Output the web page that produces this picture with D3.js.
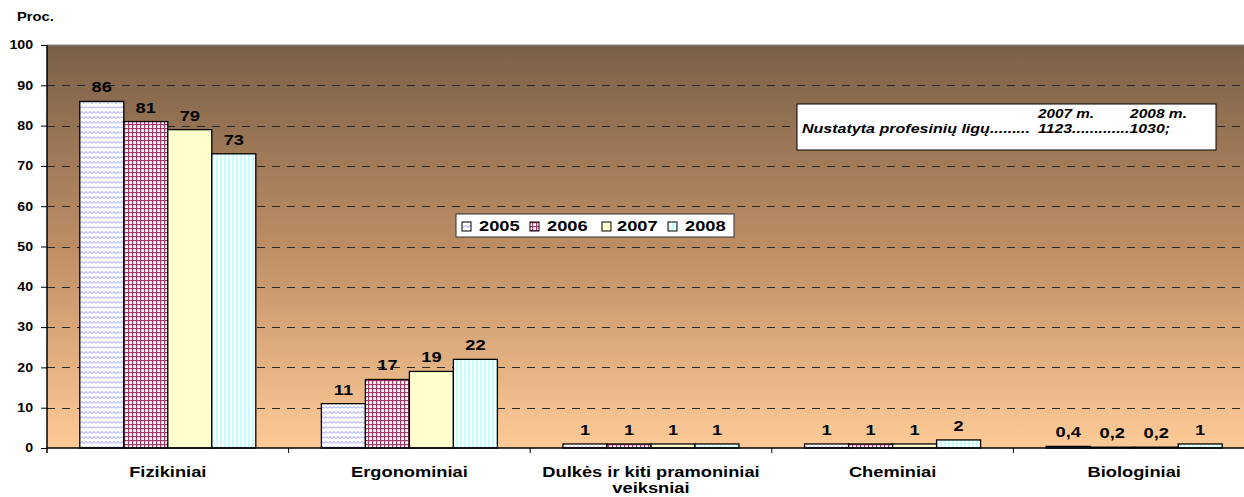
<!DOCTYPE html>
<html><head><meta charset="utf-8">
<script src="https://cdn.jsdelivr.net/npm/d3@7"></script>
<style>body{margin:0;background:#fff;}svg{display:block;font-family:"Liberation Sans",Arial,sans-serif;}</style>
</head><body>
<svg id="c" width="1244" height="497"></svg>
<script>
const categories = ["Fizikiniai","Ergonominiai","Dulkės ir kiti pramoniniai\nveiksniai","Cheminiai","Biologiniai"];
const years = ["2005","2006","2007","2008"];
const v2005 = [86, 11, 1, 1, 0.4];
const v2006 = [81, 17, 1, 1, 0.2];
const v2007 = [79, 19, 1, 1, 0.2];
const v2008 = [73, 22, 1, 2, 1];
const series = [v2005, v2006, v2007, v2008];
const yTicks = [0,10,20,30,40,50,60,70,80,90,100];

const S = 1.18; // horizontal text stretch
function stretch(sel, sx){
  sel.each(function(){
    const t = d3.select(this);
    let x = t.attr("x");
    if (x === null) { const ts = t.select("tspan"); x = ts.empty() ? 0 : ts.attr("x"); }
    x = +x || 0;
    t.attr("transform", `translate(${x*(1-sx)},0) scale(${sx},1)`);
  });
}

const svg = d3.select("#c");
const L = 47, R = 1255, T = 45, B = 448;
const x = d3.scaleBand().domain(categories).range([L, R]);
const xs = d3.scaleBand().domain(years).range([0, 176]);
const y = d3.scaleLinear().domain([0,100]).range([B, T]);

const defs = svg.append("defs");
const grad = defs.append("linearGradient").attr("id","bg").attr("x1",0).attr("y1",0).attr("x2",0).attr("y2",1);
grad.append("stop").attr("offset","0%").attr("stop-color","#7a6048");
grad.append("stop").attr("offset","50%").attr("stop-color","#bd8e65");
grad.append("stop").attr("offset","100%").attr("stop-color","#fecb97");

// patterns
const p1 = defs.append("pattern").attr("id","p2005").attr("patternUnits","userSpaceOnUse").attr("width",8).attr("height",5);
p1.append("rect").attr("width",8).attr("height",5).attr("fill","#fff");
p1.append("path").attr("d","M0,3.5 L2,1.5 L4,3.5 L6,1.5 L8,3.5").attr("fill","none").attr("stroke","#9494f4").attr("stroke-width",1);
const p2 = defs.append("pattern").attr("id","p2006").attr("patternUnits","userSpaceOnUse").attr("width",4).attr("height",4);
p2.append("rect").attr("width",4).attr("height",4).attr("fill","#fff");
p2.append("rect").attr("x",0).attr("y",0).attr("width",1.2).attr("height",4).attr("fill","#a03a6a");
p2.append("rect").attr("x",0).attr("y",0).attr("width",4).attr("height",1.2).attr("fill","#a03a6a");
const p4 = defs.append("pattern").attr("id","p2008").attr("patternUnits","userSpaceOnUse").attr("width",4).attr("height",4);
p4.append("rect").attr("width",4).attr("height",4).attr("fill","#fff");
p4.append("rect").attr("x",0).attr("width",2).attr("height",4).attr("fill","#c2ffff");
const fills = ["url(#p2005)","url(#p2006)","#ffffcc","url(#p2008)"];

svg.append("rect").attr("x",L).attr("y",T).attr("width",R-L).attr("height",B-T).attr("fill","url(#bg)");
svg.append("line").attr("x1",L).attr("x2",R).attr("y1",T).attr("y2",T).attr("stroke","#888").attr("stroke-width",1);

// gridlines
svg.append("g").selectAll("line").data(yTicks.filter(d=>d>0&&d<100)).join("line")
  .attr("x1",L).attr("x2",R).attr("y1",d=>Math.round(y(d))+0.5).attr("y2",d=>Math.round(y(d))+0.5)
  .attr("stroke","#2a2a2a").attr("stroke-width",1).attr("stroke-dasharray","8,7");

// bars
categories.forEach((c,i)=>{
  const gx = x(c) + (x.bandwidth()-176)/2;
  years.forEach((yr,j)=>{
    const v = series[j][i];
    svg.append("rect").attr("x",gx+xs(yr)).attr("y",y(v)).attr("width",xs.bandwidth()).attr("height",B-y(v))
      .attr("fill",fills[j]).attr("stroke","#000").attr("stroke-width",1.3);
    svg.append("text").attr("class","val").attr("x",gx+xs(yr)+xs.bandwidth()/2).attr("y",y(v)-9)
      .attr("text-anchor","middle").attr("font-weight","bold").attr("font-size",15.5).attr("fill","#000")
      .text(String(v).replace(".",","));
  });
});
stretch(svg.selectAll("text.val"), S);

// y axis
const yAxis = d3.axisLeft(y).tickValues(yTicks).tickSize(6).tickPadding(8);
const ya = svg.append("g").attr("transform",`translate(${L},0)`).call(yAxis);
ya.select(".domain").attr("stroke","#000").attr("stroke-width",1.5).attr("d",`M0,${B+5}V${T}`);
ya.selectAll(".tick line").attr("stroke","#000");
ya.selectAll("text").attr("font-size",12).attr("font-weight","bold").attr("font-family","'Liberation Sans',Arial,sans-serif").attr("fill","#000");
stretch(ya.selectAll("text"), S);

// x axis
svg.append("line").attr("x1",L).attr("x2",R).attr("y1",B).attr("y2",B).attr("stroke","#000").attr("stroke-width",1.5);
svg.append("g").selectAll("line").data(categories.slice(1)).join("line")
  .attr("x1",d=>x(d)).attr("x2",d=>x(d)).attr("y1",B).attr("y2",B+5).attr("stroke","#000");
categories.forEach(c=>{
  const lines = c.split("\n");
  const t = svg.append("text").attr("class","xl").attr("text-anchor","middle").attr("font-weight","bold").attr("font-size",15.5).attr("fill","#000");
  lines.forEach((ln,k)=>t.append("tspan").attr("x",x(c)+x.bandwidth()/2).attr("y",477+k*16).text(ln));
});
stretch(svg.selectAll("text.xl"), S);

const pr = svg.append("text").attr("x",17).attr("y",21).attr("font-weight","bold").attr("font-size",12.5).text("Proc.");
stretch(pr, S);

// legend
const lg = svg.append("g").attr("transform","translate(456,214)");
lg.append("rect").attr("width",278).attr("height",23).attr("fill","#fff").attr("stroke","#333").attr("stroke-width",1);
const lsw = [6, 74, 146, 212];
const ltx = [23, 91, 161, 229];
years.forEach((yr,j)=>{
  lg.append("rect").attr("x",lsw[j]).attr("y",8).attr("width",9).attr("height",9).attr("fill",fills[j]).attr("stroke","#000").attr("stroke-width",1);
  lg.append("text").attr("class","lt").attr("x",ltx[j]).attr("y",17.5).attr("font-weight","bold").attr("font-size",15.5).text(yr);
});
stretch(lg.selectAll("text.lt"), S);

// info box
const ib = svg.append("g").attr("transform","translate(797,104)");
ib.append("rect").attr("width",419).attr("height",46).attr("fill","#fff").attr("stroke","#000").attr("stroke-width",1);
const it = (xx,yy,s,w)=>ib.append("text").attr("class","it").attr("x",xx).attr("y",yy).attr("font-weight","bold").attr("font-style","italic").attr("font-size",12.5)
  .attr("textLength",w/S).attr("lengthAdjust","spacingAndGlyphs").text(s);
it(241,14,"2007 m.",56);
it(333,14,"2008 m.",57);
it(5,29,"Nustatyta profesinių ligų.........",228);
it(241,29,"1123.............1030;",132);
stretch(ib.selectAll("text.it"), S);
</script>
</body></html>
